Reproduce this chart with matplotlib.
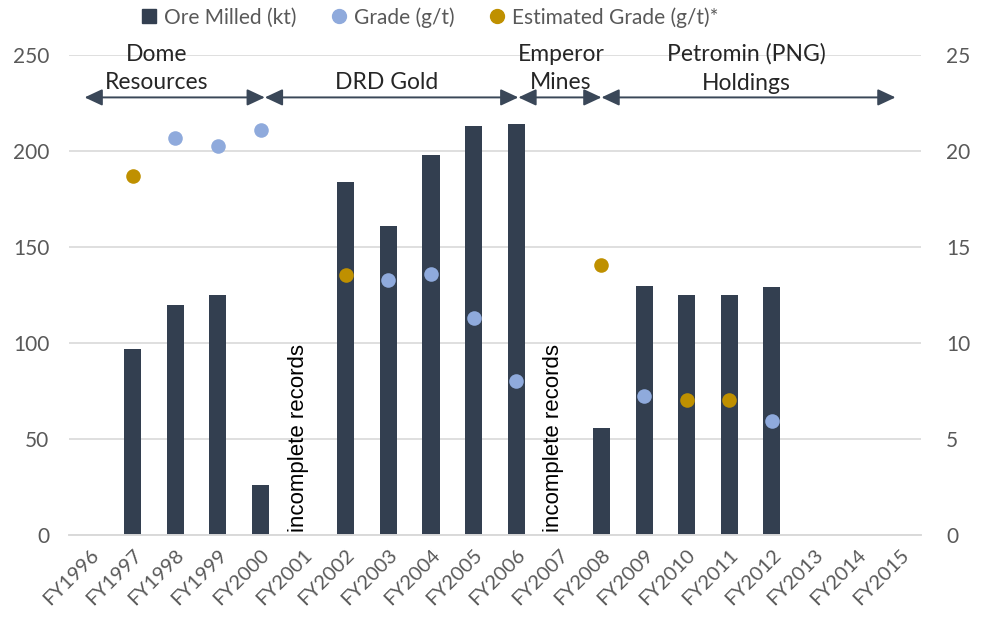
import numpy as np
import matplotlib
matplotlib.use("Agg")
import matplotlib.pyplot as plt
from matplotlib.lines import Line2D

# data
years = ["FY1996", "FY1997", "FY1998", "FY1999", "FY2000", "FY2001", "FY2002",
         "FY2003", "FY2004", "FY2005", "FY2006", "FY2007", "FY2008", "FY2009",
         "FY2010", "FY2011", "FY2012", "FY2013", "FY2014", "FY2015"]
ore_milled = [np.nan, 97, 120, 125, 26, np.nan, 184, 161, 198, 213, 214,
              np.nan, 56, 130, 125, 125, 129, np.nan, np.nan, np.nan]
grade = [np.nan, np.nan, 20.7, 20.25, 21.1, np.nan, np.nan, 13.3, 13.6, 11.3, 8.0,
         np.nan, np.nan, 7.25, np.nan, np.nan, 5.95, np.nan, np.nan, np.nan]
est_grade = [np.nan, 18.7, np.nan, np.nan, np.nan, np.nan, 13.55, np.nan, np.nan, np.nan,
             np.nan, np.nan, 14.05, np.nan, 7.05, 7.05, np.nan, np.nan, np.nan, np.nan]

# ownership periods: (label, start index, end index, label x)
owners = [("Dome\nResources", -0.13, 4.1, 1.55),
          ("DRD Gold", 4.1, 10.05, 6.95),
          ("Emperor\nMines", 10.05, 12.0, 11.05),
          ("Petromin (PNG)\nHoldings", 12.0, 18.9, 15.4)]
gap_years = ["FY2001", "FY2007"]

bar_color = "#333F50"
grade_color = "#8FAADC"
est_color = "#BF9000"
grid_color = "#D9D9D9"
text_color = "#595959"

plt.rcParams['font.family'] = ['Lato', 'DejaVu Sans']

fig = plt.figure(figsize=(9.83, 6.2), dpi=100)
ax = fig.add_axes([0.070, 0.137, 0.867, 0.774])
ax2 = ax.twinx()

x = np.arange(len(years))
ax.bar(x, ore_milled, width=0.4, color=bar_color, zorder=2)
ax2.scatter(x, grade, s=110, color=grade_color, zorder=3, linewidths=0)
ax2.scatter(x, est_grade, s=110, color=est_color, zorder=3, linewidths=0)

ax.set_xlim(-0.5, len(years) - 0.5)
ax.set_ylim(0, 250)
ax2.set_ylim(0, 25)
ax.set_yticks(np.arange(0, 251, 50))
ax2.set_yticks(np.arange(0, 26, 5))
ax.yaxis.grid(True, color=grid_color, linewidth=1.2, zorder=0)
ax.set_axisbelow(True)

ax.set_xticks(x)
ax.set_xticklabels(years, rotation=45, ha='right', rotation_mode='anchor')

for a in (ax, ax2):
    for side in ("top", "left", "right"):
        a.spines[side].set_visible(False)
    a.spines["bottom"].set_color(grid_color)
    a.spines["bottom"].set_linewidth(1.2)
    a.tick_params(length=0, labelsize=15, colors=text_color)
ax.tick_params(axis='x', labelsize=14.5, pad=8)
ax.tick_params(axis='y', pad=14)
ax2.tick_params(axis='y', pad=18)

# incomplete records notes
for yr in gap_years:
    ax.text(years.index(yr) - 0.12, 1.5, "incomplete records", rotation=90,
            ha='center', va='bottom', fontsize=16, color="black",
            family=['Liberation Sans', 'DejaVu Sans'], zorder=4)

# ownership arrows
for label, x0, x1, xt in owners:
    ax.annotate("", xy=(x1, 228), xytext=(x0, 228),
                arrowprops=dict(arrowstyle='<|-|>,head_length=0.9,head_width=0.42',
                                color="#3A4758", lw=1.4, mutation_scale=12,
                                shrinkA=0, shrinkB=0),
                annotation_clip=False, zorder=5)
    ty = 243 if "\n" in label else 236
    ax.text(xt, ty, label, ha='center', va='center', fontsize=16.5,
            color="#262626", linespacing=1.45, zorder=5)

handles = [
    Line2D([], [], marker='s', linestyle='', color=bar_color, markersize=10),
    Line2D([], [], marker='o', linestyle='', color=grade_color, markersize=10),
    Line2D([], [], marker='o', linestyle='', color=est_color, markersize=10),
]
labels = ["Ore Milled (kt)", "Grade (g/t)", "Estimated Grade (g/t)*"]
leg = fig.legend(handles, labels, loc='center', bbox_to_anchor=(0.437, 0.972),
                 ncol=3, frameon=False, fontsize=15, handlelength=0.8,
                 handletextpad=0.3, columnspacing=1.65)
for t in leg.get_texts():
    t.set_color(text_color)

fig.savefig("out.png", dpi=100)
